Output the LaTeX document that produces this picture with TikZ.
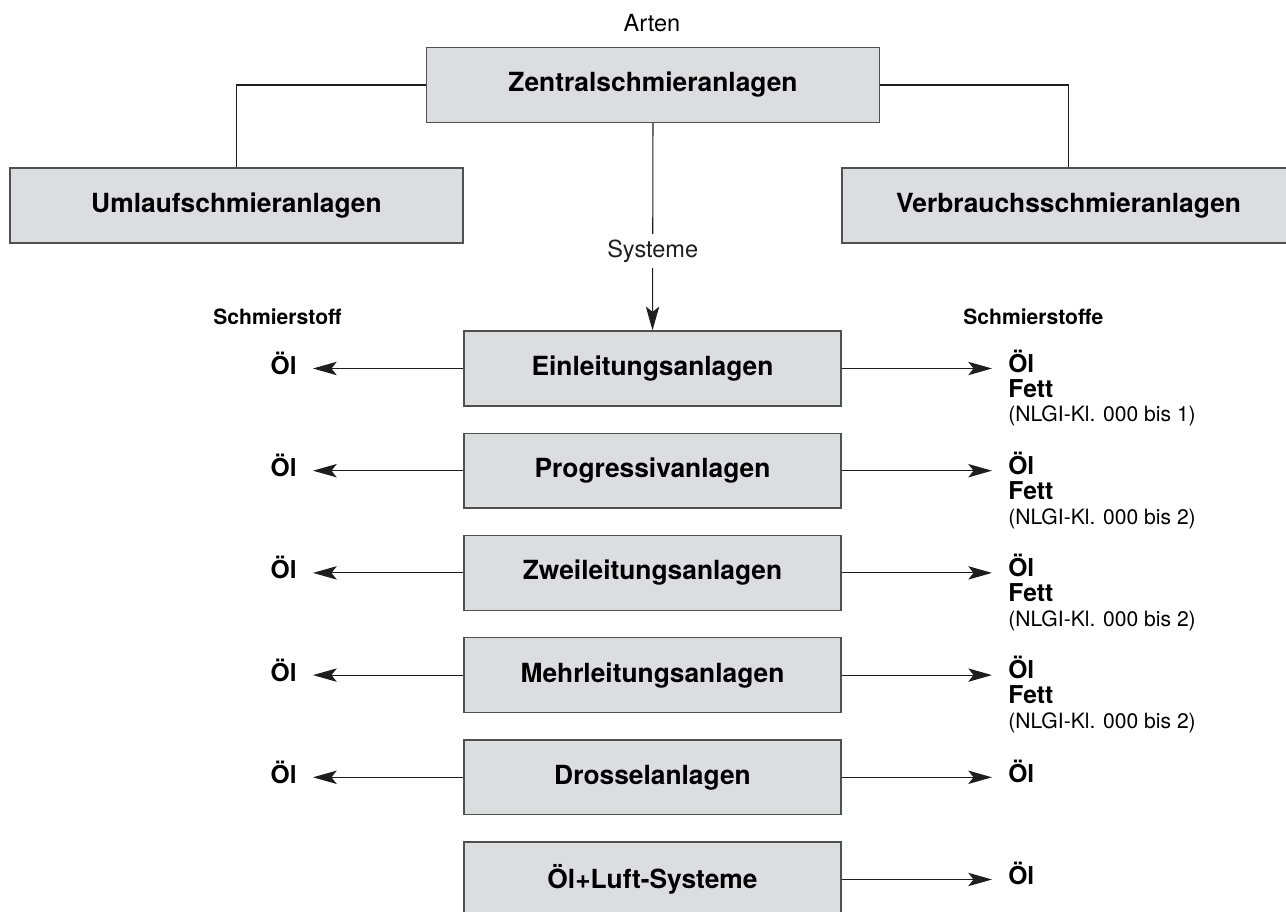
\documentclass[tikz,border=0pt]{standalone}
\usepackage{fontspec}
\setmainfont{TeX Gyre Heros}
\usetikzlibrary{arrows.meta,positioning}
\definecolor{LubeFill}{HTML}{DCDDDF}
\definecolor{LubeFrame}{HTML}{505050}
\definecolor{LubeLine}{HTML}{1E1E1E}

\begin{document}
\begin{tikzpicture}[x=0.02cm,y=-0.02cm,
    kindbox/.style={draw=LubeFrame, fill=LubeFill, line width=0.8pt, minimum width=9.06cm, minimum height=1.5cm, inner sep=0pt, font=\fontsize{15}{18}\selectfont\bfseries},
    sysbox/.style={kindbox, minimum width=7.54cm},
    caption/.style={font=\fontsize{13.4}{16}\selectfont, inner sep=0pt},
    lubehead/.style={font=\fontsize{12}{14}\selectfont\bfseries, inner sep=0pt},
    lube/.style={font=\fontsize{14}{14.2}\selectfont\bfseries, inner ysep=0pt, inner xsep=0.32cm, align=left},
    link/.style={LubeLine, line width=0.6pt},
    arr/.style={link, -{Stealth[length=13.5pt,width=7.6pt,inset=3pt]}}]
    \useasboundingbox (0,0) rectangle (1286,912);

    % Arten
    \node[caption, anchor=base] (arten) at (652,32) {Arten};
    \node[kindbox] (zentral) at (653,85) {Zentralschmieranlagen};
    \node[kindbox] (umlauf) at (236.5,205.5) {Umlaufschmieranlagen};
    \node[kindbox] (verbrauch) at (1068.5,205.5) {Verbrauchsschmieranlagen};

    \draw[link] (zentral.west) -| (umlauf.north);
    \draw[link] (zentral.east) -| (verbrauch.north);

    % Systeme
    \node[sysbox] (ein) at (652.5,368.5) {Einleitungsanlagen};
    \node[sysbox] (prog) at (652.5,470.7) {Progressivanlagen};
    \node[sysbox] (zwei) at (652.5,572.9) {Zweileitungsanlagen};
    \node[sysbox] (mehr) at (652.5,675.1) {Mehrleitungsanlagen};
    \node[sysbox] (dross) at (652.5,777.3) {Drosselanlagen};
    \node[sysbox] (luft) at (652.5,879.5) {Öl+Luft-Systeme};

    \draw[arr] (zentral.south) -- node[caption, fill=white, inner sep=3pt, pos=0.617] (systeme) {Systeme} (ein.north);

    % Schmierstoffe links
    \node[lubehead, anchor=base] (stoffL) at (277.5,325) {Schmierstoff};
    \node[lube, anchor=base east] (einL) at (313,374.5) {Öl};
    \node[lube, anchor=base east] (progL) at (313,476.7) {Öl};
    \node[lube, anchor=base east] (zweiL) at (313,578.9) {Öl};
    \node[lube, anchor=base east] (mehrL) at (313,681.1) {Öl};
    \node[lube, anchor=base east] (drossL) at (313,783.3) {Öl};

    \draw[arr] (ein.west) -- (ein.west -| einL.east);
    \draw[arr] (prog.west) -- (prog.west -| progL.east);
    \draw[arr] (zwei.west) -- (zwei.west -| zweiL.east);
    \draw[arr] (mehr.west) -- (mehr.west -| mehrL.east);
    \draw[arr] (dross.west) -- (dross.west -| drossL.east);

    % Schmierstoffe rechts (base = letzte Zeile)
    \node[lubehead, anchor=base west] (stoffR) at (963,325) {Schmierstoffe};
    \node[lube, anchor=base west] (einR) at (992,422) {Öl\\Fett\\{\fontsize{12}{14}\selectfont\mdseries (NLGI-Kl. 000 bis 1)}};
    \node[lube, anchor=base west] (progR) at (992,524.2) {Öl\\Fett\\{\fontsize{12}{14}\selectfont\mdseries (NLGI-Kl. 000 bis 2)}};
    \node[lube, anchor=base west] (zweiR) at (992,626.4) {Öl\\Fett\\{\fontsize{12}{14}\selectfont\mdseries (NLGI-Kl. 000 bis 2)}};
    \node[lube, anchor=base west] (mehrR) at (992,728.6) {Öl\\Fett\\{\fontsize{12}{14}\selectfont\mdseries (NLGI-Kl. 000 bis 2)}};
    \node[lube, anchor=base west] (drossR) at (992,782.3) {Öl};
    \node[lube, anchor=base west] (luftR) at (992,884.5) {Öl};

    \draw[arr] (ein.east) -- (ein.east -| einR.west);
    \draw[arr] (prog.east) -- (prog.east -| progR.west);
    \draw[arr] (zwei.east) -- (zwei.east -| zweiR.west);
    \draw[arr] (mehr.east) -- (mehr.east -| mehrR.west);
    \draw[arr] (dross.east) -- (dross.east -| drossR.west);
    \draw[arr] (luft.east) -- (luft.east -| luftR.west);
  \end{tikzpicture}
\end{document}
